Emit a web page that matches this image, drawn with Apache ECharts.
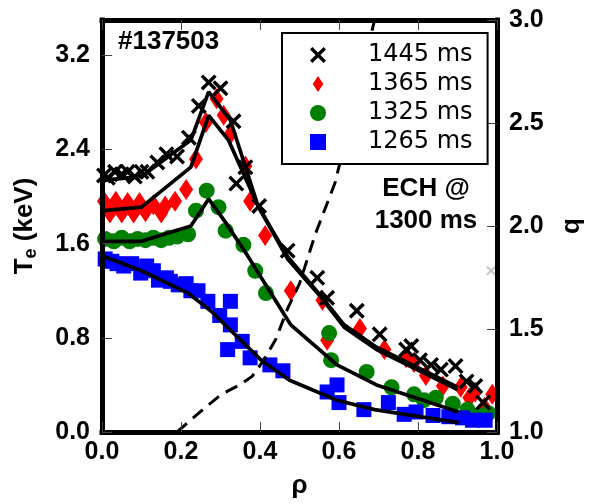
<!DOCTYPE html>
<html>
<head>
<meta charset="utf-8">
<script src="https://cdn.jsdelivr.net/npm/echarts@6/dist/echarts.min.js"></script>
<style>
	html, body { margin: 0; padding: 0; background: #fff; }
	#teProfileChartContainer { width: 593px; height: 504px; }
</style>
</head>
<body>
<div id="teProfileChartContainer"></div>
<script>
// 1445 ms
var rho1445 = [0.005,0.015,0.033,0.05,0.065,0.083,0.10,0.115,0.14,0.163,0.19,0.22,0.245,0.27,0.30,0.333,0.34,0.363,0.398,0.47,0.545,0.57,0.645,0.703,0.77,0.783,0.805,0.833,0.858,0.895,0.923,0.945,0.965];
var te1445 = [2.18,2.16,2.21,2.19,2.21,2.17,2.21,2.21,2.29,2.36,2.34,2.50,2.77,2.97,2.92,2.64,2.11,2.25,1.92,1.54,1.31,1.14,1.03,0.83,0.70,0.73,0.61,0.57,0.53,0.56,0.43,0.39,0.25];
// 1365 ms
var rho1365 = [0.005,0.02,0.035,0.05,0.065,0.08,0.095,0.11,0.13,0.15,0.16,0.185,0.213,0.238,0.263,0.29,0.308,0.325,0.363,0.375,0.413,0.478,0.558,0.57,0.653,0.715,0.77,0.79,0.82,0.863,0.908,0.93,0.945,0.968,0.988];
var te1365 = [1.96,1.86,1.96,1.86,1.95,1.86,1.95,1.87,1.93,1.86,1.92,1.96,2.06,2.32,2.63,2.83,2.69,2.53,2.26,1.96,1.67,1.20,1.12,0.78,0.88,0.70,0.63,0.59,0.48,0.39,0.38,0.29,0.34,0.21,0.32];
// 1325 ms
var rho1325 = [0.008,0.03,0.05,0.07,0.09,0.11,0.13,0.15,0.17,0.19,0.218,0.238,0.265,0.295,0.313,0.358,0.388,0.415,0.575,0.58,0.67,0.733,0.79,0.815,0.845,0.888,0.925,0.95,0.978];
var te1325 = [1.64,1.62,1.65,1.62,1.64,1.63,1.65,1.63,1.65,1.66,1.68,1.88,2.05,1.91,1.71,1.59,1.37,1.18,0.84,0.61,0.51,0.38,0.32,0.27,0.29,0.24,0.19,0.14,0.16];
// 1265 ms
var rho1265 = [0.008,0.025,0.038,0.055,0.075,0.098,0.113,0.13,0.143,0.163,0.173,0.193,0.213,0.225,0.243,0.268,0.298,0.325,0.325,0.318,0.355,0.375,0.425,0.458,0.57,0.595,0.60,0.663,0.725,0.765,0.795,0.838,0.878,0.913,0.938,0.97];
var te1265 = [1.47,1.45,1.43,1.41,1.43,1.35,1.41,1.37,1.29,1.31,1.28,1.25,1.26,1.20,1.20,1.11,0.99,1.11,0.91,0.70,0.77,0.63,0.57,0.52,0.34,0.40,0.25,0.19,0.25,0.15,0.17,0.14,0.13,0.12,0.10,0.10];

// fitted profiles
var fitRho1445 = [0.005,0.10,0.225,0.27,0.325,0.395,0.47,0.553,0.613,0.695,0.90];
var fitTe1445 = [2.14,2.17,2.48,2.89,2.65,1.92,1.49,1.16,0.91,0.72,0.38];
var fitRho1365 = [0.005,0.10,0.225,0.27,0.32,0.395,0.47,0.553,0.613,0.695,0.90];
var fitTe1365 = [1.88,1.91,2.25,2.69,2.48,1.92,1.47,1.15,0.89,0.70,0.36];
var fitRho1325 = [0.008,0.10,0.225,0.27,0.315,0.37,0.463,0.478,0.595,0.695,0.903];
var fitTe1325 = [1.62,1.62,1.75,1.98,1.77,1.49,0.99,0.91,0.57,0.40,0.17];
var fitRho1265 = [0.005,0.10,0.218,0.275,0.388,0.403,0.475,0.595,0.69,0.903];
var fitTe1265 = [1.49,1.37,1.18,1.03,0.66,0.61,0.44,0.27,0.19,0.08];

// safety factor q (right axis)
var qRho = [0.19,0.25,0.3,0.35,0.38,0.41,0.44,0.47,0.5,0.54,0.59,0.64,0.69];
var qVal = [1.0,1.1,1.18,1.23,1.27,1.35,1.45,1.6,1.72,1.96,2.21,2.6,3.0];

// stray grey marker at the right edge
var strayRho = [0.985];
var strayTe = [1.37];

var teProfileChart = {
	crossPath : 'path://M0,3L3,0L10,7L17,0L20,3L13,10L20,17L17,20L10,13L3,20L0,17L7,10Z',
	boldFont : 'Liberation Sans',

	/**
	 * zip two arrays into [x, y] pairs
	 */
	zip : function(xs, ys) {
		var out = new Array();
		for (var i = 0; i < xs.length; i++) {
			out.push([xs[i], ys[i]]);
		}
		return out;
	},

	fitSeries : function(xs, ys) {
		return {
			type: 'line',
			data: teProfileChart.zip(xs, ys),
			symbol: 'none',
			z: 5,
			lineStyle: { color: '#000', width: 3.7 },
			silent: true
		};
	},

	/**
	 * draw the chart
	 */
	showChart : function() {
		var myChart = echarts.init(document.getElementById('teProfileChartContainer'), null, {renderer: 'canvas'});
		var bf = teProfileChart.boldFont;
		var tickLabel = {
			color: '#000', fontFamily: bf, fontWeight: 'bold', fontSize: 25,
			formatter: function(v) { return v.toFixed(1); }
		};
		var frameLine = { show: true, onZero: false, lineStyle: { color: '#000', width: 5, cap: 'square' } };
		var innerTick = { show: true, inside: true, length: 10, lineStyle: { color: '#444', width: 1 } };

		var option = {
			animation: false,
			backgroundColor: '#fff',
			grid: { left: 102, right: 92, top: 20, bottom: 69 },
			legend: {
				orient: 'vertical',
				left: 282,
				top: 33,
				padding: [10, 15, 10, 28],
				itemWidth: 16,
				itemHeight: 16,
				itemGap: 5,
				borderColor: '#000',
				borderWidth: 2,
				backgroundColor: '#fff',
				z: 20,
				textStyle: { fontFamily: 'DejaVu Sans', fontSize: 24, color: '#000', lineHeight: 24, padding: [0, 0, 0, 37] },
				data: [
					{ name: '1445 ms', icon: teProfileChart.crossPath },
					{ name: '1365 ms', icon: 'path://M6,0L12,9L6,18L0,9Z' },
					{ name: '1325 ms', icon: 'circle' },
					{ name: '1265 ms', icon: 'rect' }
				]
			},
			xAxis: [
				{
					type: 'value', position: 'bottom', min: 0, max: 1, interval: 0.2, z: 10,
					name: 'ρ', nameLocation: 'middle', nameGap: 41,
					nameTextStyle: { fontFamily: bf, fontWeight: 'bold', fontSize: 26, color: '#000' },
					axisLine: frameLine, axisTick: innerTick, splitLine: { show: false },
					axisLabel: $.extend({ margin: 8 }, tickLabel)
				},
				{
					type: 'value', position: 'top', min: 0, max: 1, interval: 0.2, z: 10,
					axisLine: frameLine, axisTick: innerTick, splitLine: { show: false },
					axisLabel: { show: false }
				}
			],
			yAxis: [
				{
					type: 'value', position: 'left', min: 0, max: 3.5, interval: 0.8, z: 10,
					name: '{t|T}{s|e}{t| (keV)}', nameLocation: 'middle', nameGap: 62, nameRotate: 90,
					nameTextStyle: {
						rich: {
							t: { fontFamily: bf, fontWeight: 'bold', fontSize: 26, color: '#000' },
							s: { fontFamily: bf, fontWeight: 'bold', fontSize: 18, color: '#000', verticalAlign: 'bottom', padding: [12, 0, 0, 0] }
						}
					},
					axisLine: frameLine, axisTick: innerTick, splitLine: { show: false },
					axisLabel: $.extend({ margin: 12, showMaxLabel: false }, tickLabel)
				},
				{
					type: 'value', position: 'right', min: 1, max: 3, interval: 0.5, z: 10,
					name: 'q', nameLocation: 'middle', nameGap: 62, nameRotate: 90,
					nameTextStyle: { fontFamily: bf, fontWeight: 'bold', fontSize: 26, color: '#000' },
					axisLine: frameLine, axisTick: innerTick, splitLine: { show: false },
					axisLabel: $.extend({ margin: 12 }, tickLabel)
				}
			],
			graphic: [
				{ type: 'text', x: 118, y: 42, z: 30, style: { text: '#137503', font: 'bold 26px "Liberation Sans"', fill: '#000', verticalAlign: 'middle' } },
				{ type: 'text', x: 426, y: 189, z: 30, style: { text: 'ECH @', font: 'bold 26px "Liberation Sans"', fill: '#000', align: 'center', verticalAlign: 'middle' } },
				{ type: 'text', x: 426, y: 221, z: 30, style: { text: '1300 ms', font: 'bold 26px "Liberation Sans"', fill: '#000', align: 'center', verticalAlign: 'middle' } }
			],
			series: [
				{
					name: '1365 ms', type: 'scatter', data: teProfileChart.zip(rho1365, te1365),
					symbol: 'diamond', symbolSize: [14, 21], z: 2,
					itemStyle: { color: '#ff0000', opacity: 1 }
				},
				{
					name: '1325 ms', type: 'scatter', data: teProfileChart.zip(rho1325, te1325),
					symbol: 'circle', symbolSize: 16, z: 3,
					itemStyle: { color: '#008000', opacity: 1 }
				},
				{
					name: '1265 ms', type: 'scatter', data: teProfileChart.zip(rho1265, te1265),
					symbol: 'rect', symbolSize: 15, z: 3,
					itemStyle: { color: '#0000ff', opacity: 1 }
				},
				{
					name: '1445 ms', type: 'scatter', data: teProfileChart.zip(rho1445, te1445),
					symbol: teProfileChart.crossPath, symbolSize: 16, z: 4,
					itemStyle: { color: '#000', opacity: 1 }
				},
				{
					name: 'stray', type: 'scatter', data: teProfileChart.zip(strayRho, strayTe),
					symbol: teProfileChart.crossPath, symbolSize: 10, z: 4,
					itemStyle: { color: '#c8c8c8', opacity: 1 }
				},
				teProfileChart.fitSeries(fitRho1445, fitTe1445),
				teProfileChart.fitSeries(fitRho1365, fitTe1365),
				teProfileChart.fitSeries(fitRho1325, fitTe1325),
				teProfileChart.fitSeries(fitRho1265, fitTe1265),
				{
					type: 'line', yAxisIndex: 1, data: teProfileChart.zip(qRho, qVal),
					symbol: 'none', z: 5, silent: true,
					lineStyle: { color: '#000', width: 3, type: [13, 8] }
				}
			]
		};
		myChart.setOption(option);
	}
};

// tiny stand-in for jQuery.extend (no jQuery here)
var $ = { extend: function(a, b) { for (var k in b) { a[k] = b[k]; } return a; } };

teProfileChart.showChart();
</script>
</body>
</html>
